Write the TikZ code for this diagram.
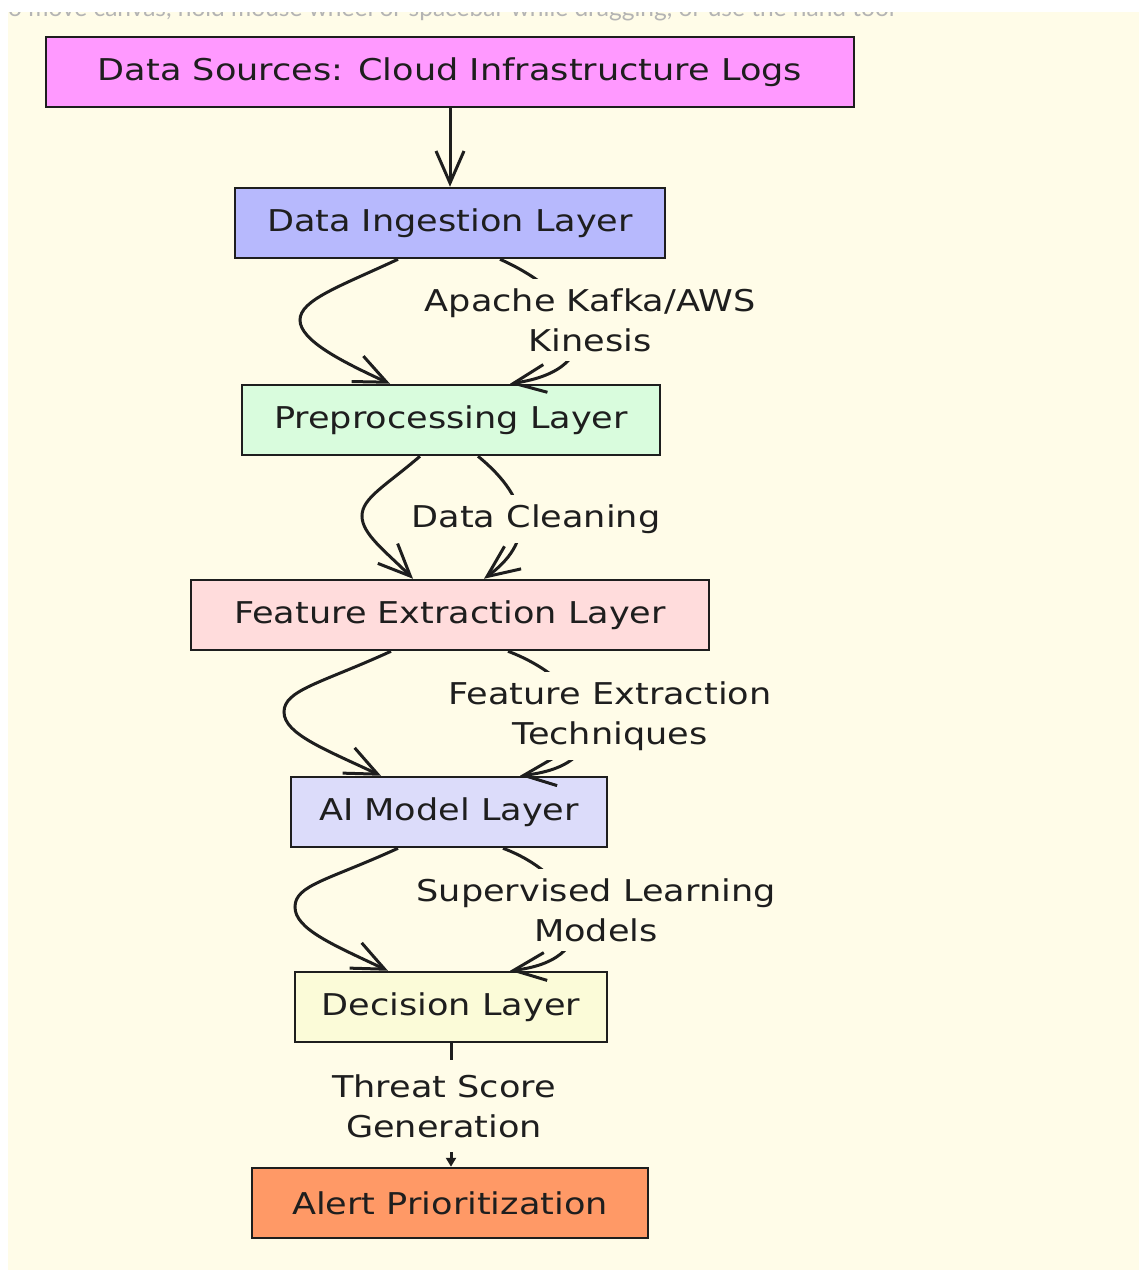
\documentclass[tikz,border=0pt]{standalone}
\usepackage{fontspec}
\setmainfont{DejaVu Sans}[FakeStretch=1.17]
\newfontfamily\uifont{Lato}
\usetikzlibrary{arrows.meta}
\definecolor{paper}{HTML}{FFFCE8}
\definecolor{ink}{HTML}{1E1E1E}
\definecolor{uigray}{HTML}{B4B4B4}
\definecolor{srcfill}{HTML}{FF99FF}
\definecolor{ingfill}{HTML}{B7B9FD}
\definecolor{prefill}{HTML}{D9FCDD}
\definecolor{featfill}{HTML}{FFDCDC}
\definecolor{aifill}{HTML}{DCDCFA}
\definecolor{decfill}{HTML}{FBFBD8}
\definecolor{alertfill}{HTML}{FF9966}
\tikzset{
    layer/.style = { draw=ink, fill=#1, line width=2.5pt, minimum height=70pt, inner sep=0pt,
                     text=ink, font=\fontsize{30}{40}\selectfont },
    flow/.style = { ink, line width=3pt, -{Straight Barb[length=32pt,width=28pt]} },
    lastflow/.style = { ink, line width=3pt, -{Triangle[length=9pt,width=10pt]} },
    edgetext/.style = { fill=paper, align=center, inner xsep=5pt, inner ysep=9pt, text=ink,
                        font=\fontsize{30}{40}\selectfont }
}

\begin{document}
\begin{tikzpicture}[x=1pt, y=-1pt]
    \useasboundingbox (0,0) rectangle (1139,1270);

    %%%
    %%% Canvas and the cut-off hint line
    %%%
    \begin{scope}
      \clip (8,12) rectangle (1139,1270);
      \fill[paper] (8,12) rectangle (1139,1270);
      \node[anchor=base west, inner sep=0pt, text=uigray, font=\uifont\fontsize{24.5}{24}\selectfont]
        (hint) at (8,16) {o move canvas, hold mouse wheel or spacebar while dragging, or use the hand tool};
    \end{scope}

    %%%
    %%% Layers
    %%%
    \node[layer=srcfill,   minimum width=808pt] (sources)  at (450,72)   {Data Sources: Cloud Infrastructure Logs};
    \node[layer=ingfill,   minimum width=430pt] (ingest)   at (450,223)  {Data Ingestion Layer};
    \node[layer=prefill,   minimum width=418pt] (prep)     at (451,420)  {Preprocessing Layer};
    \node[layer=featfill,  minimum width=518pt] (feature)  at (450,615)  {Feature Extraction Layer};
    \node[layer=aifill,    minimum width=316pt] (model)    at (449,812)  {AI Model Layer};
    \node[layer=decfill,   minimum width=312pt] (decision) at (451,1007) {Decision Layer};
    \node[layer=alertfill, minimum width=396pt] (alert)    at (450,1203) {Alert Prioritization};

    %%%
    %%% Connectors
    %%%
    % Sources -> ingestion
    \draw[flow] (sources.south) -- (ingest.north);

    % Ingestion -> preprocessing
    \coordinate (bendA) at (300,320);
    \draw[flow] ([xshift=-52pt]ingest.south) .. controls +(-58,27) and +(0,-20) .. (bendA)
                .. controls +(0,20) and +(-50,-23) .. ([xshift=-61pt]prep.north);
    \draw[flow] ([xshift=50pt]ingest.south) .. controls +(90,40) and +(100,-15) .. ([xshift=59pt]prep.north);
    \node[edgetext] (kafka) at (590,320) {Apache Kafka/AWS\\Kinesis};

    % Preprocessing -> feature extraction
    \coordinate (bendB) at (362,516);
    \draw[flow] ([xshift=-31pt]prep.south) .. controls +(-35,30) and +(0,-18) .. (bendB)
                .. controls +(0,18) and +(-28,-28) .. ([xshift=-37pt]feature.north);
    \draw[flow] ([xshift=27pt]prep.south) .. controls +(55,45) and +(49,-36) .. ([xshift=34pt]feature.north);
    \node[edgetext] (cleaning) at (536,519) {Data Cleaning};

    % Feature extraction -> AI model
    \coordinate (bendC) at (284,712);
    \draw[flow] ([xshift=-59pt]feature.south) .. controls +(-70,32) and +(0,-22) .. (bendC)
                .. controls +(0,22) and +(-55,-26) .. ([xshift=-68pt]model.north);
    \draw[flow] ([xshift=58pt]feature.south) .. controls +(85,32) and +(105,-12) .. ([xshift=71pt]model.north);
    \node[edgetext] (techniques) at (610,716) {Feature Extraction\\Techniques};

    % AI model -> decision
    \coordinate (bendD) at (295,907);
    \draw[flow] ([xshift=-51pt]model.south) .. controls +(-70,32) and +(0,-22) .. (bendD)
                .. controls +(0,22) and +(-55,-26) .. ([xshift=-63pt]decision.north);
    \draw[flow] ([xshift=54pt]model.south) .. controls +(80,30) and +(100,-12) .. ([xshift=59pt]decision.north);
    \node[edgetext] (supervised) at (596,910) {Supervised Learning\\Models};

    % Decision -> alert
    \draw[lastflow] (decision.south) -- (decision.south |- alert.north);
    \node[edgetext, inner ysep=14pt] (threat) at (444,1106) {Threat Score\\Generation};
\end{tikzpicture}
\end{document}
